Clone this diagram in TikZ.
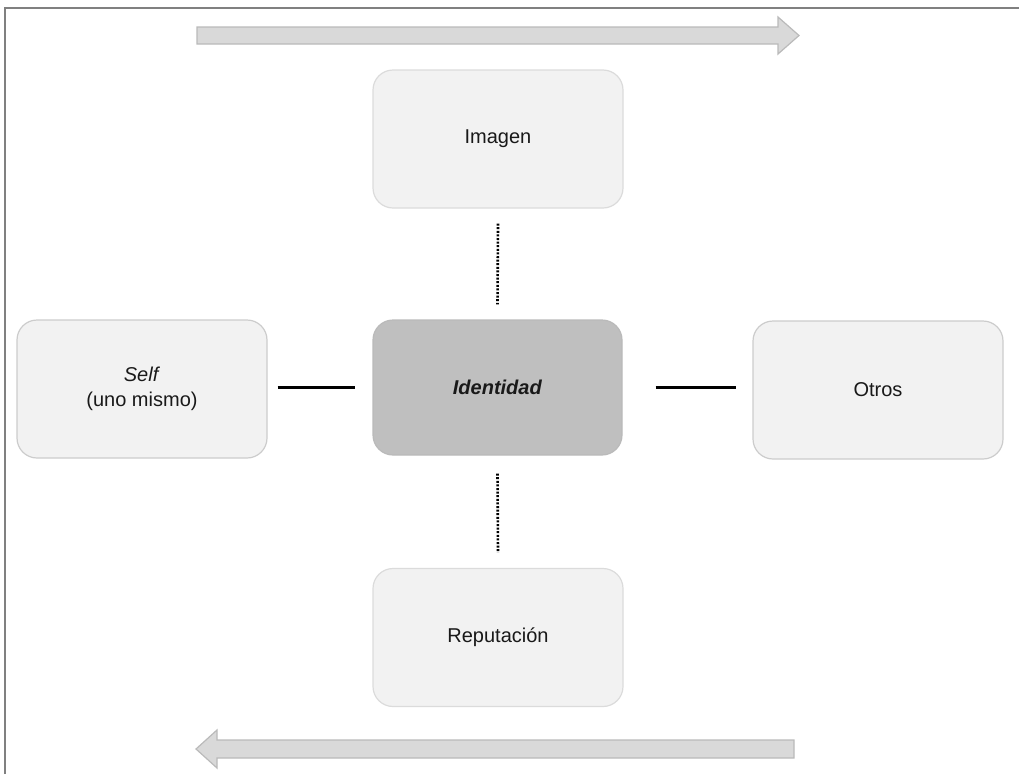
\documentclass[tikz,border=0pt]{standalone}
\usepackage{fontspec}
\setmainfont{Liberation Sans}
\begin{document}
\begin{tikzpicture}[x=1pt,y=-1pt,
  softbox/.style={rectangle, rounded corners=20pt, fill=black!5, draw=black!14, line width=1.2pt,
    minimum width=250pt, minimum height=138pt, align=center, font=\fontsize{20}{25}\selectfont, text=black!90},
  corebox/.style={softbox, fill=black!25, draw=black!27, minimum width=249pt, minimum height=135pt},
  tie/.style={line width=2.6pt, black},
  dotline/.style={line width=2.6pt, black, dash pattern=on 2pt off 1.6pt},
  flowarrow/.style={fill=black!15, draw=black!27, line width=1.2pt, line join=miter},
  frameline/.style={draw=black!50, line width=2pt}]
  \useasboundingbox (0,0) rectangle (1019,774);

  % frame edges
  \draw[frameline] (5,774) -- (5,8) -- (1019,8);

  % boxes
  \node[softbox] (imagen) at (498,139) {Imagen};
  \node[corebox] (iden) at (497.5,387.5) {\textbf{\textit{Identidad}}};
  \node[softbox, draw=black!20] (self) at (142,389) {\textit{Self}\\(uno mismo)};
  \node[softbox, draw=black!20] (otros) at (878,390) {Otros};
  \node[softbox] (rep) at (498,637.5) {Reputación};

  % links to the centre (shifts are in page units: positive yshift moves up)
  \draw[tie] ([xshift=10pt]self.east |- iden.west) -- ([xshift=-17pt]iden.west);
  \draw[tie] ([xshift=33pt]iden.east) -- ([xshift=-16pt]otros.west |- iden.east);
  \draw[dotline] ([yshift=-15pt]imagen.south) -- ([yshift=15pt]iden.north);
  \draw[dotline] ([yshift=-18pt]iden.south) -- ([yshift=15pt]rep.north);

  % top arrow, pointing right
  \draw[flowarrow] (197,27) -- (778,27) -- (778,17) -- (799,35.5) -- (778,54) -- (778,44) -- (197,44) -- cycle;
  % bottom arrow, pointing left
  \draw[flowarrow] (794,740) -- (217,740) -- (217,730) -- (196,749) -- (217,768) -- (217,758) -- (794,758) -- cycle;
\end{tikzpicture}
\end{document}
